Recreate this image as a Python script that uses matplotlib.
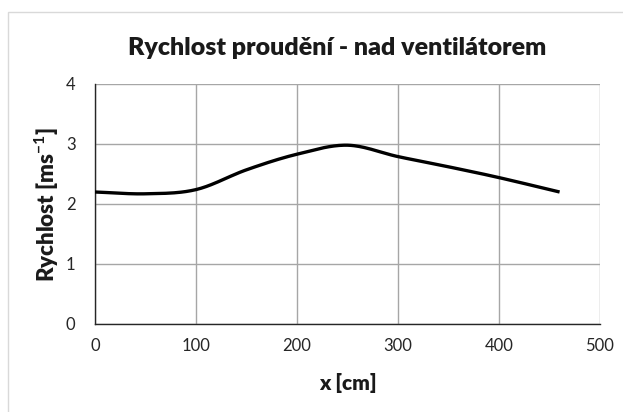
import numpy as np
import matplotlib
matplotlib.use("Agg")
import matplotlib.pyplot as plt
from matplotlib.patches import Rectangle

plt.rcParams['font.family'] = ['Lato', 'DejaVu Sans']
plt.rcParams['mathtext.fontset'] = 'custom'
plt.rcParams['mathtext.rm'] = 'Lato'
plt.rcParams['mathtext.bf'] = 'Lato:bold'

# Measured air velocity above the fan
x_cm = [0, 50, 100, 150, 200, 250, 300, 350, 400, 460]
rychlost = [2.20, 2.17, 2.24, 2.57, 2.83, 2.98, 2.79, 2.62, 2.44, 2.20]

x_ticks = [0, 100, 200, 300, 400, 500]
y_ticks = [0, 1, 2, 3, 4]

title = "Rychlost proudění - nad ventilátorem"
x_label = "x [cm]"
y_label = r"Rychlost [ms$^{\mathbf{-1}}$]"

TEXT = '#1a1a1a'


def smooth_curve(xs, ys, n=30):
    """Catmull-Rom style smoothing, like a spreadsheet's smoothed line."""
    xs = np.asarray(xs, float)
    ys = np.asarray(ys, float)
    px = np.concatenate([[2 * xs[0] - xs[1]], xs, [2 * xs[-1] - xs[-2]]])
    py = np.concatenate([[2 * ys[0] - ys[1]], ys, [2 * ys[-1] - ys[-2]]])
    out_x, out_y = [], []
    t = np.linspace(0, 1, n, endpoint=False)
    for i in range(1, len(px) - 2):
        p0, p1, p2, p3 = (np.array([px[j], py[j]]) for j in range(i - 1, i + 3))
        c1 = p1 + (p2 - p0) / 6
        c2 = p2 - (p3 - p1) / 6
        tt = t[:, None]
        pts = ((1 - tt) ** 3) * p1 + 3 * ((1 - tt) ** 2) * tt * c1 \
            + 3 * (1 - tt) * tt ** 2 * c2 + tt ** 3 * p2
        out_x.extend(pts[:, 0])
        out_y.extend(pts[:, 1])
    out_x.append(xs[-1])
    out_y.append(ys[-1])
    return np.array(out_x), np.array(out_y)


W, H = 623, 412
fig = plt.figure(figsize=(W / 100, H / 100), dpi=100)
fig.patches.append(Rectangle((8 / W, -0.01), 1.0, (H - 12) / H + 0.01,
                             transform=fig.transFigure, fill=False,
                             edgecolor='#d9d9d9', linewidth=1.0))

ax = fig.add_axes([95 / W, (H - 324) / H, 505 / W, 240 / H])
sx, sy = smooth_curve(x_cm, rychlost)
ax.plot(sx, sy, color='black', linewidth=2.4, solid_capstyle='butt', zorder=3)

ax.set_xlim(0, 500)
ax.set_ylim(0, 4)
ax.set_xticks(x_ticks)
ax.set_yticks(y_ticks)
ax.grid(True, color='#a6a6a6', linewidth=1.0)
ax.set_axisbelow(True)
for side in ('top', 'right'):
    ax.spines[side].set_visible(False)
for side in ('left', 'bottom'):
    ax.spines[side].set_color('#262626')
    ax.spines[side].set_linewidth(1.0)
ax.tick_params(length=0, labelsize=12, colors='#262626', pad=10)
ax.tick_params(axis='y', pad=14)

fig.text(337.5 / W, 1 - 48 / H, title, fontsize=18, fontweight='heavy',
         color=TEXT, ha='center', va='center')
fig.text(347.5 / W, 1 - 383 / H, x_label, fontsize=15, fontweight='heavy',
         color=TEXT, ha='center', va='center')
fig.text(47 / W, 1 - 205 / H, y_label, fontsize=16, fontweight='heavy',
         color=TEXT, ha='center', va='center', rotation=90)

fig.savefig("out.png", dpi=100)
